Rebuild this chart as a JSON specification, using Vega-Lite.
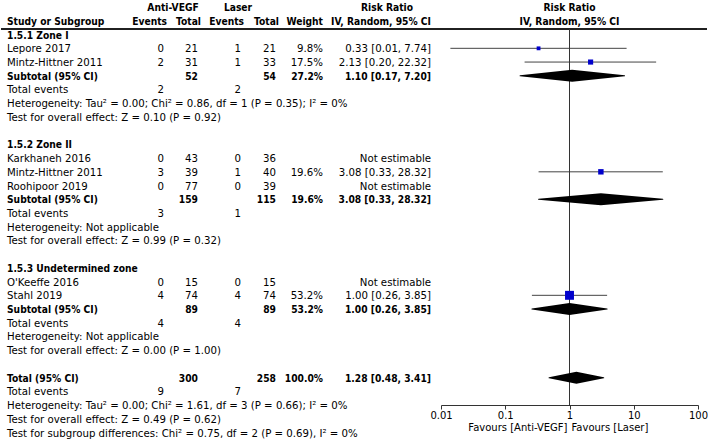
{
  "$schema": "https://vega.github.io/schema/vega-lite/v6.json",
  "width": 708,
  "height": 442,
  "autosize": {"type": "fit", "contains": "padding"},
  "padding": 0,
  "background": "white",
  "config": {
    "view": {"stroke": null},
    "text": {"font": "DejaVu Sans", "fontSize": 10.2, "baseline": "middle", "color": "#000", "dy": 1}
  },
  "data": {
    "values": [
      {"r": -1, "kind": "head", "label": "Study or Subgroup", "ae": "Events", "at": "Total", "le": "Events", "lt": "Total", "w": "Weight", "rr": "IV, Random, 95% CI"},
      {"r": 0, "kind": "group", "label": "1.5.1 Zone I"},
      {"r": 1, "kind": "study", "label": "Lepore 2017", "ae": "0", "at": "21", "le": "1", "lt": "21", "w": "9.8%", "rr": "0.33 [0.01, 7.74]", "est": 0.33, "lo": 0.014, "hi": 7.74, "wt": 9.8},
      {"r": 2, "kind": "study", "label": "Mintz-Hittner 2011", "ae": "2", "at": "31", "le": "1", "lt": "33", "w": "17.5%", "rr": "2.13 [0.20, 22.32]", "est": 2.13, "lo": 0.2, "hi": 22.32, "wt": 17.5},
      {"r": 3, "kind": "subtotal", "label": "Subtotal (95% CI)", "at": "52", "lt": "54", "w": "27.2%", "rr": "1.10 [0.17, 7.20]", "est": 1.1, "lo": 0.17, "hi": 7.2},
      {"r": 4, "kind": "events", "label": "Total events", "ae": "2", "le": "2"},
      {"r": 5, "kind": "info", "label": "Heterogeneity: Tau² = 0.00; Chi² = 0.86, df = 1 (P = 0.35); I² = 0%"},
      {"r": 6, "kind": "info", "label": "Test for overall effect: Z = 0.10 (P = 0.92)"},
      {"r": 8, "kind": "group", "label": "1.5.2 Zone II"},
      {"r": 9, "kind": "study", "label": "Karkhaneh 2016", "ae": "0", "at": "43", "le": "0", "lt": "36", "rr": "Not estimable"},
      {"r": 10, "kind": "study", "label": "Mintz-Hittner 2011", "ae": "3", "at": "39", "le": "1", "lt": "40", "w": "19.6%", "rr": "3.08 [0.33, 28.32]", "est": 3.08, "lo": 0.33, "hi": 28.32, "wt": 19.6},
      {"r": 11, "kind": "study", "label": "Roohipoor 2019", "ae": "0", "at": "77", "le": "0", "lt": "39", "rr": "Not estimable"},
      {"r": 12, "kind": "subtotal", "label": "Subtotal (95% CI)", "at": "159", "lt": "115", "w": "19.6%", "rr": "3.08 [0.33, 28.32]", "est": 3.08, "lo": 0.33, "hi": 28.32},
      {"r": 13, "kind": "events", "label": "Total events", "ae": "3", "le": "1"},
      {"r": 14, "kind": "info", "label": "Heterogeneity: Not applicable"},
      {"r": 15, "kind": "info", "label": "Test for overall effect: Z = 0.99 (P = 0.32)"},
      {"r": 17, "kind": "group", "label": "1.5.3 Undetermined zone"},
      {"r": 18, "kind": "study", "label": "O'Keeffe 2016", "ae": "0", "at": "15", "le": "0", "lt": "15", "rr": "Not estimable"},
      {"r": 19, "kind": "study", "label": "Stahl 2019", "ae": "4", "at": "74", "le": "4", "lt": "74", "w": "53.2%", "rr": "1.00 [0.26, 3.85]", "est": 1.0, "lo": 0.26, "hi": 3.85, "wt": 53.2},
      {"r": 20, "kind": "subtotal", "label": "Subtotal (95% CI)", "at": "89", "lt": "89", "w": "53.2%", "rr": "1.00 [0.26, 3.85]", "est": 1.0, "lo": 0.26, "hi": 3.85},
      {"r": 21, "kind": "events", "label": "Total events", "ae": "4", "le": "4"},
      {"r": 22, "kind": "info", "label": "Heterogeneity: Not applicable"},
      {"r": 23, "kind": "info", "label": "Test for overall effect: Z = 0.00 (P = 1.00)"},
      {"r": 25, "kind": "total", "label": "Total (95% CI)", "at": "300", "lt": "258", "w": "100.0%", "rr": "1.28 [0.48, 3.41]", "est": 1.28, "lo": 0.48, "hi": 3.41},
      {"r": 26, "kind": "events", "label": "Total events", "ae": "9", "le": "7"},
      {"r": 27, "kind": "info", "label": "Heterogeneity: Tau² = 0.00; Chi² = 1.61, df = 3 (P = 0.66); I² = 0%"},
      {"r": 28, "kind": "info", "label": "Test for overall effect: Z = 0.49 (P = 0.62)"},
      {"r": 29, "kind": "info", "label": "Test for subgroup differences: Chi² = 0.75, df = 2 (P = 0.69), I² = 0%"}
    ]
  },
  "resolve": {"scale": {"x": "independent"}},
  "layer": [
    {
      "transform": [{"filter": "datum.kind === 'study' && isValid(datum.lo)"}],
      "mark": {"type": "rule", "color": "#444", "strokeWidth": 1},
      "encoding": {
        "x": {"field": "lo", "type": "quantitative", "scale": {"type": "log", "domain": [0.01, 100], "range": [440, 697], "nice": false},
          "axis": {"orient": "bottom", "offset": -37, "values": [0.01, 0.1, 1, 10, 100], "labelExpr": "'' + datum.value", "title": null, "grid": false, "domain": true, "domainColor": "#333", "ticks": true, "tickColor": "#333", "tickSize": 4, "labelFont": "DejaVu Sans", "labelFontSize": 10, "labelColor": "#000", "labelPadding": 1, "labelFlush": false, "labelOverlap": false}},
        "x2": {"field": "hi"},
        "y": {"field": "r", "type": "quantitative", "scale": {"domain": [-2.522, 29.69], "reverse": true, "nice": false, "zero": false}, "axis": null}
      }
    },
    {
      "mark": {"type": "rule", "color": "#222", "strokeWidth": 1},
      "encoding": {"y": {"datum": -0.4, "type": "quantitative", "axis": null}}
    },
    {
      "mark": {"type": "rule", "color": "#333", "strokeWidth": 1},
      "encoding": {
        "x": {"datum": 1, "type": "quantitative", "scale": {"type": "log", "domain": [0.01, 100], "range": [440, 697], "nice": false}, "axis": null},
        "y": {"datum": -0.4, "type": "quantitative", "axis": null},
        "y2": {"datum": 27}
      }
    },
    {
      "transform": [{"filter": "datum.kind === 'study' && isValid(datum.wt)"}],
      "mark": {"type": "point", "shape": "square", "filled": true, "color": "#0000cc", "opacity": 1, "strokeWidth": 0},
      "encoding": {
        "x": {"field": "est", "type": "quantitative", "scale": {"type": "log", "domain": [0.01, 100], "range": [440, 697], "nice": false}, "axis": null},
        "y": {"field": "r", "type": "quantitative", "axis": null},
        "size": {"field": "wt", "type": "quantitative", "scale": {"domain": [0, 53.2], "range": [0, 80]}, "legend": null}
      }
    },
    {
      "transform": [
        {"filter": "(datum.kind === 'subtotal' || datum.kind === 'total') && isValid(datum.lo)"},
        {"fold": ["lo", "est", "hi"], "as": ["k", "v"]}
      ],
      "mark": {"type": "trail", "color": "#000"},
      "encoding": {
        "x": {"field": "v", "type": "quantitative", "scale": {"type": "log", "domain": [0.01, 100], "range": [440, 697], "nice": false}, "axis": null},
        "y": {"field": "r", "type": "quantitative", "axis": null},
        "detail": {"field": "r", "type": "nominal"},
        "order": {"field": "v", "type": "quantitative"},
        "size": {"condition": {"test": "datum.k === 'est'", "value": 12}, "value": 0}
      }
    },
    {
      "data": {"values": [
        {"h": "Risk Ratio", "r": -2},
        {"h": "IV, Random, 95% CI", "r": -1}
      ]},
      "mark": {"type": "text", "align": "center", "fontWeight": "bold", "font": "DejaVu Sans Condensed, DejaVu Sans"},
      "encoding": {
        "x": {"datum": 1, "type": "quantitative", "scale": {"type": "log", "domain": [0.01, 100], "range": [440, 697], "nice": false}, "axis": null},
        "y": {"field": "r", "type": "quantitative", "axis": null},
        "text": {"field": "h", "type": "nominal"}
      }
    },
    {
      "data": {"values": [{"h": "Favours [Anti-VEGF]", "r": 28.6}]},
      "mark": {"type": "text", "align": "right", "dx": -2, "fontSize": 10},
      "encoding": {
        "x": {"datum": 1, "type": "quantitative", "scale": {"type": "log", "domain": [0.01, 100], "range": [440, 697], "nice": false}, "axis": null},
        "y": {"field": "r", "type": "quantitative", "axis": null},
        "text": {"field": "h", "type": "nominal"}
      }
    },
    {
      "data": {"values": [{"h": "Favours [Laser]", "r": 28.6}]},
      "mark": {"type": "text", "align": "left", "dx": 2, "fontSize": 10},
      "encoding": {
        "x": {"datum": 1, "type": "quantitative", "scale": {"type": "log", "domain": [0.01, 100], "range": [440, 697], "nice": false}, "axis": null},
        "y": {"field": "r", "type": "quantitative", "axis": null},
        "text": {"field": "h", "type": "nominal"}
      }
    },
    {
      "transform": [{"filter": "indexof(['study','info','events'], datum.kind) >= 0"}],
      "mark": {"type": "text", "align": "left"},
      "encoding": {
        "x": {"datum": 0, "type": "quantitative", "scale": {"type": "linear", "domain": [0,1,2,3,4,5,6,7,8,9], "range": [6,163,197,240,275,322,430,172,237,386], "nice": false, "zero": false}, "axis": null},
        "y": {"field": "r", "type": "quantitative", "axis": null},
        "text": {"field": "label", "type": "nominal"}
      }
    },
    {
      "transform": [{"filter": "indexof(['head','group','subtotal','total'], datum.kind) >= 0"}],
      "mark": {"type": "text", "align": "left", "fontWeight": "bold", "font": "DejaVu Sans Condensed, DejaVu Sans"},
      "encoding": {
        "x": {"datum": 0, "type": "quantitative", "scale": {"type": "linear", "domain": [0,1,2,3,4,5,6,7,8,9], "range": [6,163,197,240,275,322,430,172,237,386], "nice": false, "zero": false}, "axis": null},
        "y": {"field": "r", "type": "quantitative", "axis": null},
        "text": {"field": "label", "type": "nominal"}
      }
    },
    {
      "transform": [{"filter": "isValid(datum.ae) && datum.kind !== 'head'"}],
      "mark": {"type": "text", "align": "right"},
      "encoding": {
        "x": {"datum": 1, "type": "quantitative", "scale": {"type": "linear", "domain": [0,1,2,3,4,5,6,7,8,9], "range": [6,163,197,240,275,322,430,172,237,386], "nice": false, "zero": false}, "axis": null},
        "y": {"field": "r", "type": "quantitative", "axis": null},
        "text": {"field": "ae", "type": "nominal"}
      }
    },
    {
      "transform": [{"filter": "isValid(datum.le) && datum.kind !== 'head'"}],
      "mark": {"type": "text", "align": "right"},
      "encoding": {
        "x": {"datum": 3, "type": "quantitative", "scale": {"type": "linear", "domain": [0,1,2,3,4,5,6,7,8,9], "range": [6,163,197,240,275,322,430,172,237,386], "nice": false, "zero": false}, "axis": null},
        "y": {"field": "r", "type": "quantitative", "axis": null},
        "text": {"field": "le", "type": "nominal"}
      }
    },
    {
      "transform": [{"filter": "isValid(datum.at) && datum.kind === 'study'"}],
      "mark": {"type": "text", "align": "right"},
      "encoding": {
        "x": {"datum": 2, "type": "quantitative", "scale": {"type": "linear", "domain": [0,1,2,3,4,5,6,7,8,9], "range": [6,163,197,240,275,322,430,172,237,386], "nice": false, "zero": false}, "axis": null},
        "y": {"field": "r", "type": "quantitative", "axis": null},
        "text": {"field": "at", "type": "nominal"}
      }
    },
    {
      "transform": [{"filter": "isValid(datum.lt) && datum.kind === 'study'"}],
      "mark": {"type": "text", "align": "right"},
      "encoding": {
        "x": {"datum": 4, "type": "quantitative", "scale": {"type": "linear", "domain": [0,1,2,3,4,5,6,7,8,9], "range": [6,163,197,240,275,322,430,172,237,386], "nice": false, "zero": false}, "axis": null},
        "y": {"field": "r", "type": "quantitative", "axis": null},
        "text": {"field": "lt", "type": "nominal"}
      }
    },
    {
      "transform": [{"filter": "isValid(datum.w) && datum.kind === 'study'"}],
      "mark": {"type": "text", "align": "right"},
      "encoding": {
        "x": {"datum": 5, "type": "quantitative", "scale": {"type": "linear", "domain": [0,1,2,3,4,5,6,7,8,9], "range": [6,163,197,240,275,322,430,172,237,386], "nice": false, "zero": false}, "axis": null},
        "y": {"field": "r", "type": "quantitative", "axis": null},
        "text": {"field": "w", "type": "nominal"}
      }
    },
    {
      "transform": [{"filter": "isValid(datum.rr) && datum.kind === 'study'"}],
      "mark": {"type": "text", "align": "right"},
      "encoding": {
        "x": {"datum": 6, "type": "quantitative", "scale": {"type": "linear", "domain": [0,1,2,3,4,5,6,7,8,9], "range": [6,163,197,240,275,322,430,172,237,386], "nice": false, "zero": false}, "axis": null},
        "y": {"field": "r", "type": "quantitative", "axis": null},
        "text": {"field": "rr", "type": "nominal"}
      }
    },
    {
      "transform": [{"filter": "datum.kind === 'head'"}],
      "mark": {"type": "text", "align": "right", "fontWeight": "bold", "font": "DejaVu Sans Condensed, DejaVu Sans", "dx": 3},
      "encoding": {
        "x": {"datum": 1, "type": "quantitative", "scale": {"type": "linear", "domain": [0,1,2,3,4,5,6,7,8,9], "range": [6,163,197,240,275,322,430,172,237,386], "nice": false, "zero": false}, "axis": null},
        "y": {"field": "r", "type": "quantitative", "axis": null},
        "text": {"field": "ae", "type": "nominal"}
      }
    },
    {
      "transform": [{"filter": "datum.kind === 'head'"}],
      "mark": {"type": "text", "align": "right", "fontWeight": "bold", "font": "DejaVu Sans Condensed, DejaVu Sans", "dx": 3},
      "encoding": {
        "x": {"datum": 3, "type": "quantitative", "scale": {"type": "linear", "domain": [0,1,2,3,4,5,6,7,8,9], "range": [6,163,197,240,275,322,430,172,237,386], "nice": false, "zero": false}, "axis": null},
        "y": {"field": "r", "type": "quantitative", "axis": null},
        "text": {"field": "le", "type": "nominal"}
      }
    },
    {
      "transform": [{"filter": "datum.kind === 'head'"}],
      "mark": {"type": "text", "align": "right", "fontWeight": "bold", "font": "DejaVu Sans Condensed, DejaVu Sans", "dx": 3},
      "encoding": {
        "x": {"datum": 2, "type": "quantitative", "scale": {"type": "linear", "domain": [0,1,2,3,4,5,6,7,8,9], "range": [6,163,197,240,275,322,430,172,237,386], "nice": false, "zero": false}, "axis": null},
        "y": {"field": "r", "type": "quantitative", "axis": null},
        "text": {"field": "at", "type": "nominal"}
      }
    },
    {
      "transform": [{"filter": "datum.kind === 'head'"}],
      "mark": {"type": "text", "align": "right", "fontWeight": "bold", "font": "DejaVu Sans Condensed, DejaVu Sans", "dx": 3},
      "encoding": {
        "x": {"datum": 4, "type": "quantitative", "scale": {"type": "linear", "domain": [0,1,2,3,4,5,6,7,8,9], "range": [6,163,197,240,275,322,430,172,237,386], "nice": false, "zero": false}, "axis": null},
        "y": {"field": "r", "type": "quantitative", "axis": null},
        "text": {"field": "lt", "type": "nominal"}
      }
    },
    {
      "transform": [{"filter": "isValid(datum.at) && datum.kind !== 'study' && datum.kind !== 'head'"}],
      "mark": {"type": "text", "align": "right", "fontWeight": "bold", "font": "DejaVu Sans Condensed, DejaVu Sans"},
      "encoding": {
        "x": {"datum": 2, "type": "quantitative", "scale": {"type": "linear", "domain": [0,1,2,3,4,5,6,7,8,9], "range": [6,163,197,240,275,322,430,172,237,386], "nice": false, "zero": false}, "axis": null},
        "y": {"field": "r", "type": "quantitative", "axis": null},
        "text": {"field": "at", "type": "nominal"}
      }
    },
    {
      "transform": [{"filter": "isValid(datum.lt) && datum.kind !== 'study' && datum.kind !== 'head'"}],
      "mark": {"type": "text", "align": "right", "fontWeight": "bold", "font": "DejaVu Sans Condensed, DejaVu Sans"},
      "encoding": {
        "x": {"datum": 4, "type": "quantitative", "scale": {"type": "linear", "domain": [0,1,2,3,4,5,6,7,8,9], "range": [6,163,197,240,275,322,430,172,237,386], "nice": false, "zero": false}, "axis": null},
        "y": {"field": "r", "type": "quantitative", "axis": null},
        "text": {"field": "lt", "type": "nominal"}
      }
    },
    {
      "transform": [{"filter": "isValid(datum.w) && datum.kind !== 'study'"}],
      "mark": {"type": "text", "align": "right", "fontWeight": "bold", "font": "DejaVu Sans Condensed, DejaVu Sans"},
      "encoding": {
        "x": {"datum": 5, "type": "quantitative", "scale": {"type": "linear", "domain": [0,1,2,3,4,5,6,7,8,9], "range": [6,163,197,240,275,322,430,172,237,386], "nice": false, "zero": false}, "axis": null},
        "y": {"field": "r", "type": "quantitative", "axis": null},
        "text": {"field": "w", "type": "nominal"}
      }
    },
    {
      "transform": [{"filter": "isValid(datum.rr) && datum.kind !== 'study'"}],
      "mark": {"type": "text", "align": "right", "fontWeight": "bold", "font": "DejaVu Sans Condensed, DejaVu Sans"},
      "encoding": {
        "x": {"datum": 6, "type": "quantitative", "scale": {"type": "linear", "domain": [0,1,2,3,4,5,6,7,8,9], "range": [6,163,197,240,275,322,430,172,237,386], "nice": false, "zero": false}, "axis": null},
        "y": {"field": "r", "type": "quantitative", "axis": null},
        "text": {"field": "rr", "type": "nominal"}
      }
    },
    {
      "data": {"values": [
        {"h": "Anti-VEGF", "c": 7, "r": -2},
        {"h": "Laser", "c": 8, "r": -2},
        {"h": "Risk Ratio", "c": 9, "r": -2}
      ]},
      "mark": {"type": "text", "align": "center", "fontWeight": "bold", "font": "DejaVu Sans Condensed, DejaVu Sans"},
      "encoding": {
        "x": {"field": "c", "type": "quantitative", "scale": {"type": "linear", "domain": [0,1,2,3,4,5,6,7,8,9], "range": [6,163,197,240,275,322,430,172,237,386], "nice": false, "zero": false}, "axis": null},
        "y": {"field": "r", "type": "quantitative", "axis": null},
        "text": {"field": "h", "type": "nominal"}
      }
    }
  ]
}
